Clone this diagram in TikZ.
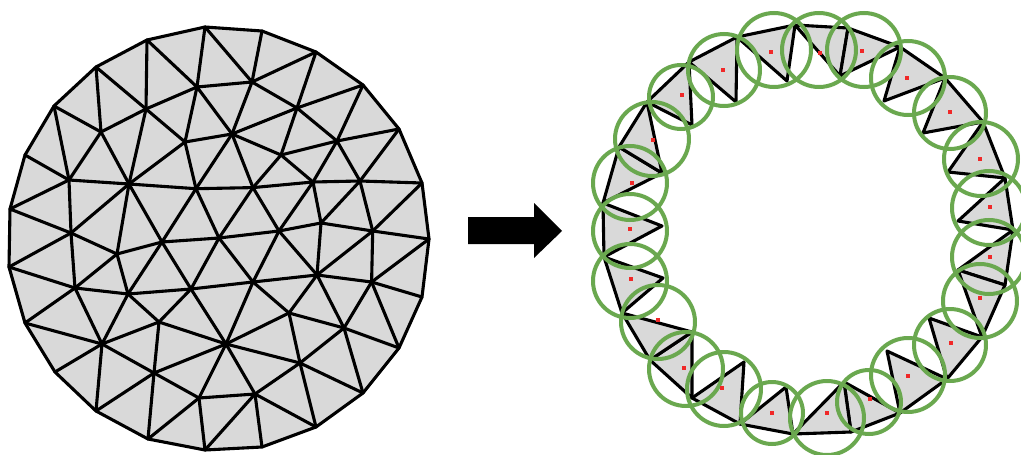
\documentclass[tikz,border=0pt]{standalone}
\definecolor{meshgray}{HTML}{D9D9D9}
\definecolor{ringgreen}{HTML}{6AA84F}
\definecolor{dotred}{HTML}{F02828}
\tikzset{
  meshedge/.style={draw=black,line width=3.1pt,line cap=round,line join=round},
  meshface/.style={fill=meshgray,draw=black,line width=3.1pt,line join=round},
  ringcircle/.style={draw=ringgreen,line width=4pt},
  centerdot/.style={fill=dotred},
  bigarrow/.style={fill=black}
}
\begin{document}
\begin{tikzpicture}[x=1pt,y=-1pt]
\useasboundingbox (0,0) rectangle (1021,455);
% boundary vertices of the left mesh
\foreach \n/\x/\y in {0/205/27,1/262/31,2/316/52,3/363/85,4/399/129,5/422/183,6/429/239,7/422/297,8/399/348,9/363/393,10/316/427,11/262/447,12/205/450,13/148/439,14/96/411,15/55/372,16/25/323,17/9/267,18/10/209,19/25/155,20/54/106,21/96/67,22/147/40}
  \coordinate (t\n) at (\x,\y);
% interior vertices
\foreach \n/\x/\y in {1/197/87,2/252/82,3/146/109,4/297/108,5/101/132,6/185/142,7/232/134,8/337/141,9/281/155,10/69/180,11/129/184,12/196/188.7,13/253/187.6,14/313/182,15/360/181,16/71/233,17/117/254,18/162/242,19/219/238,20/279/231,21/321/223,22/372.7/231,23/75/288,24/128/294,25/191/289,26/253/282,27/317/275,28/371.6/282,29/159/322,30/226/344,31/289/313,32/344/328,33/102/344,34/154/373,35/300/363,36/199/398,37/255/394}
  \coordinate (i\n) at (\x,\y);
% left mesh
\path[meshface] (t0)--(t1)--(t2)--(t3)--(t4)--(t5)--(t6)--(t7)--(t8)--(t9)--(t10)--(t11)--(t12)--(t13)--(t14)--(t15)--(t16)--(t17)--(t18)--(t19)--(t20)--(t21)--(t22)--cycle;
\foreach \a/\b in {t0/i1,t0/i2,t1/i2,t2/i2,t2/i4,t3/i4,t3/i8,t4/i8,t4/i15,t5/i15,t5/i22,t6/i22,t6/i28,t7/i28,t8/i28,t8/i32,t9/i32,t9/i35,t10/i35,t10/i37,t11/i37,t12/i37,t12/i36,t13/i36,t13/i34,t14/i34,t14/i33,t15/i33,t16/i33,t16/i23,t17/i23,t17/i16,t18/i16,t18/i10,t19/i10,t20/i10,t20/i5,t21/i5,t21/i3,t22/i3,t22/i1,
i1/i2,i1/i3,i1/i6,i1/i7,i2/i7,i2/i4,i3/i5,i3/i6,i3/i11,i4/i7,i4/i8,i4/i9,i5/i10,i5/i11,i6/i7,i6/i11,i6/i12,i7/i9,i7/i12,i7/i13,i8/i9,i8/i14,i8/i15,i9/i13,i9/i14,i10/i11,i10/i16,i11/i12,i12/i13,i13/i14,i14/i15,i11/i16,i11/i17,i11/i18,i12/i18,i12/i19,i13/i19,i13/i20,i14/i20,i14/i21,i15/i21,i15/i22,i16/i17,i16/i23,i17/i18,i17/i23,i17/i24,i18/i19,i18/i24,i18/i25,i19/i20,i19/i25,i19/i26,i20/i21,i20/i26,i20/i27,i21/i22,i21/i27,i22/i27,i22/i28,i27/i28,i26/i27,i25/i26,i24/i25,i23/i24,i23/i33,i24/i33,i24/i29,i25/i29,i25/i30,i26/i30,i26/i31,i27/i31,i27/i32,i28/i32,i31/i32,i30/i31,i31/i35,i32/i35,i30/i35,i30/i37,i35/i37,i36/i37,i30/i36,i34/i36,i30/i34,i29/i34,i29/i30,i29/i33,i33/i34}
  \draw[meshedge] (\a) -- (\b);
% arrow
\coordinate (as1) at (468,217);
\coordinate (as2) at (534,217);
\coordinate (ah1) at (534,203);
\coordinate (atip) at (562,231);
\coordinate (ah2) at (534,258);
\coordinate (as3) at (534,244);
\coordinate (as4) at (468,244);
\path[bigarrow] (as1)--(as2)--(ah1)--(atip)--(ah2)--(as3)--(as4)--cycle;
% right ring: outer vertices
\foreach \n/\x/\y in {0/795/25,1/848/28,2/900/47,3/945/78,4/983/122,5/1005/178,6/1013/230,7/1005/285,8/982/337,9/947/379,10/900/413,11/851/432,12/793/434,13/740/424,14/692/398,15/650/360,16/622/313,17/604/257,18/603/203,19/619/147,20/647/102,21/689/62,22/737/37}
  \coordinate (r\n) at (\x,\y);
% right ring: inner apexes
\foreach \n/\x/\y in {1/787/81,2/840/76,4/884/101,8/923/133,15/948/172,22/958/221,28/958/270,32/929/318,35/887/351,37/844/382,36/786/387,34/744/362,33/692/332,23/663/278,16/662/226,10/662/173,5/692/125,3/736/102}
  \coordinate (q\n) at (\x,\y);
\foreach \a/\b/\c in {r0/r1/q2,r1/r2/q2,r2/r3/q4,r3/r4/q8,r4/r5/q15,r5/r6/q22,r6/r7/q28,r7/r8/q28,r8/r9/q32,r9/r10/q35,r10/r11/q37,r11/r12/q37,r12/r13/q36,r13/r14/q34,r14/r15/q33,r15/r16/q33,r16/r17/q23,r17/r18/q16,r18/r19/q10,r19/r20/q10,r20/r21/q5,r21/r22/q3,r22/r0/q1}
  \path[meshface] (\a)--(\b)--(\c)--cycle;
% circles
\foreach \x/\y/\r in {774/50/37,819/50/37,864/50/37,908/78/37,950/113/36,981/159/37,989/208/37,989/257/37,980/301/37,950/345/36,908/375/37,869/402/32,827/418/37,772/413/31,724/389/37,686/369/37,658/322/37,630/281/37,630/231/37,630/183/37,652/139/37,681/97/32,724/70/36}
  \draw[ringcircle] (\x,\y) circle[radius=\r];
% centres
\foreach \x/\y in {771/52,820/53,862/51,907/78,950/112,980/159,990/207,990/257,980/298,951/343,908/376,870/399,827/413,772/413,722/388,684/368,658/320,631/279,630/229,632/183,653/140,682/95,723/70}
  \fill[centerdot] (\x-2,\y-2) rectangle (\x+2,\y+2);
\end{tikzpicture}
\end{document}
